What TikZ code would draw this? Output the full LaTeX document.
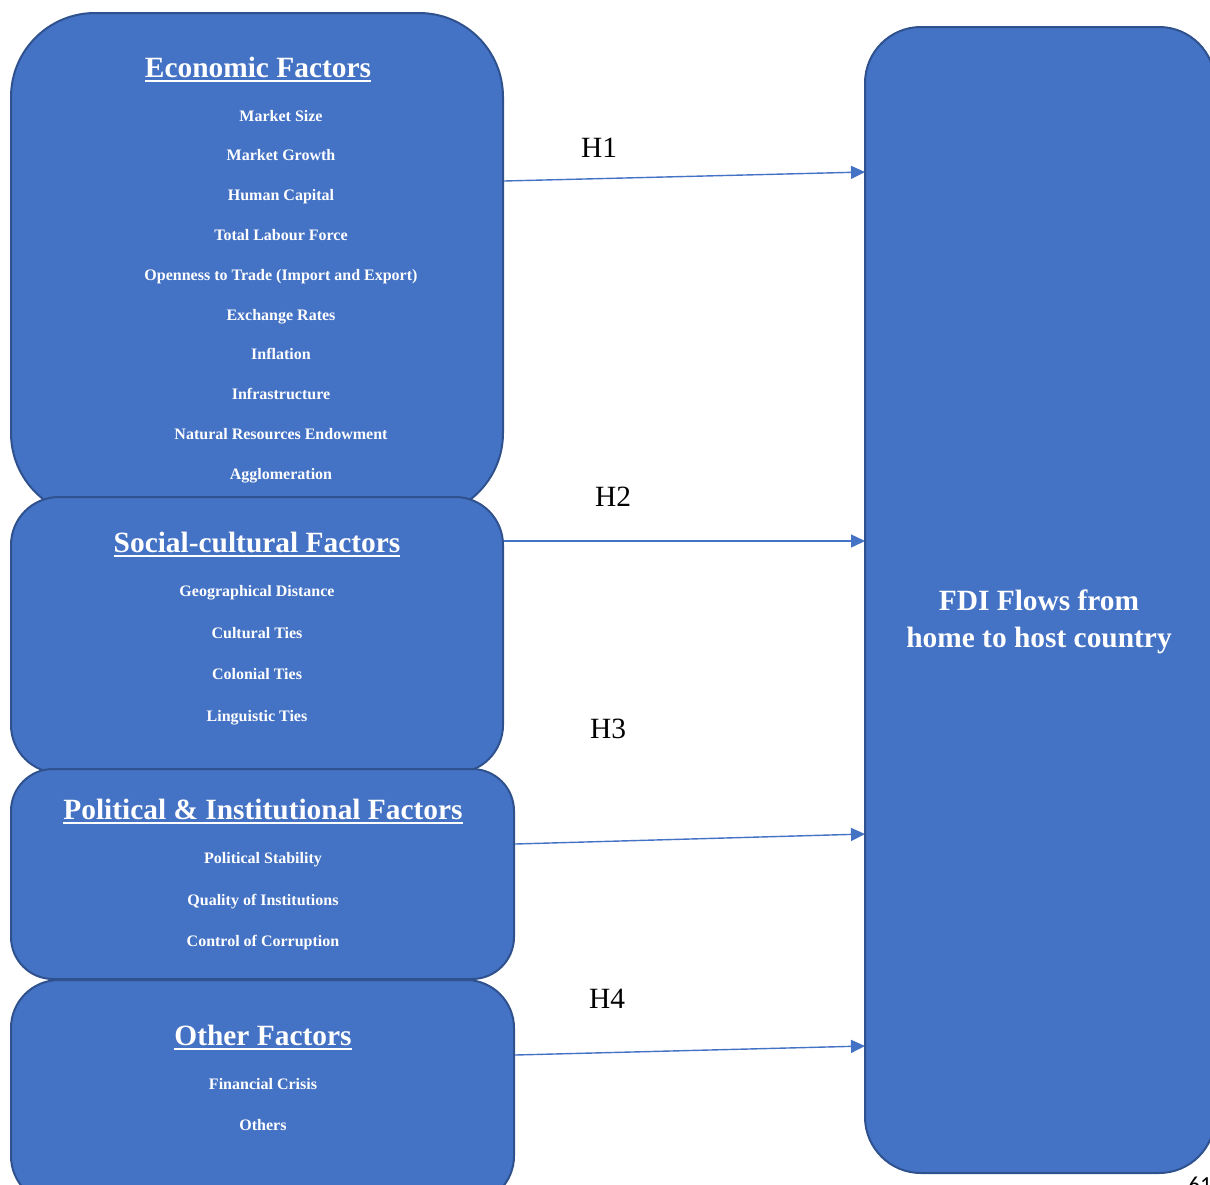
\documentclass[tikz,border=0pt]{standalone}
\usepackage{fontspec}
\setmainfont{Liberation Serif}
\newfontfamily\pagefont{Carlito}
\usetikzlibrary{arrows.meta}
\definecolor{boxfill}{HTML}{4472C4}
\definecolor{boxline}{HTML}{2F528F}
\newcommand\myul[1]{\setbox0\hbox{#1}\rlap{\rule[-2.4pt]{\wd0}{1.1pt}}\box0}
\tikzset{
  factorbox/.style={rectangle, draw=boxline, fill=boxfill, line width=1pt, inner sep=0pt},
  boxtitle/.style={text=white, font=\fontsize{14.7pt}{17pt}\selectfont\bfseries, anchor=base, inner sep=0pt},
  boxitem/.style={text=white, font=\fontsize{8pt}{10pt}\selectfont\bfseries, anchor=base, inner sep=0pt},
  hlabel/.style={text=black, font=\fontsize{14.7pt}{17pt}\selectfont, anchor=base, inner sep=0pt},
  hyparrow/.style={draw=boxfill, line width=0.7pt, -{Triangle[length=7pt,width=6.5pt]}}
}
\begin{document}
\begin{tikzpicture}[x=0.5pt,y=-0.5pt]
\useasboundingbox (0,0) rectangle (1210,1184);
% boxes
\node[factorbox, rounded corners=42pt, minimum width=246pt, minimum height=252pt] (eco) at (257,265) {};
\node[factorbox, rounded corners=24pt, minimum width=246pt, minimum height=138pt] (soc) at (257,635) {};
\node[factorbox, rounded corners=21pt, minimum width=251.5pt, minimum height=105pt] (pol) at (262.5,874) {};
\node[factorbox, rounded corners=24pt, minimum width=251.5pt, minimum height=112pt] (oth) at (262.5,1092) {};
\node[factorbox, rounded corners=28pt, minimum width=175pt, minimum height=573pt] (fdi) at (1040,600) {};
% economic
\node[boxtitle] (ecot) at (258,77) {\myul{Economic Factors}};
\node[boxitem] (e1) at (281,121) {Market Size};
\node[boxitem] (e2) at (281,160.8) {Market Growth};
\node[boxitem] (e3) at (281,200.6) {Human Capital};
\node[boxitem] (e4) at (281,240.4) {Total Labour Force};
\node[boxitem] (e5) at (281,280.2) {Openness to Trade (Import and Export)};
\node[boxitem] (e6) at (281,320) {Exchange Rates};
\node[boxitem] (e7) at (281,359.8) {Inflation};
\node[boxitem] (e8) at (281,399.6) {Infrastructure};
\node[boxitem] (e9) at (281,439.4) {Natural Resources Endowment};
\node[boxitem] (e10) at (281,479.2) {Agglomeration};
% social
\node[boxtitle] (soct) at (257,552) {\myul{Social-cultural Factors}};
\node[boxitem] (s1) at (257,596) {Geographical Distance};
\node[boxitem] (s2) at (257,638) {Cultural Ties};
\node[boxitem] (s3) at (257,679) {Colonial Ties};
\node[boxitem] (s4) at (257,721) {Linguistic Ties};
% political
\node[boxtitle] (polt) at (263,819) {\myul{Political \& Institutional Factors}};
\node[boxitem] (p1) at (263,863) {Political Stability};
\node[boxitem] (p2) at (263,905) {Quality of Institutions};
\node[boxitem] (p3) at (263,946) {Control of Corruption};
% other
\node[boxtitle] (otht) at (263,1045) {\myul{Other Factors}};
\node[boxitem] (o1) at (263,1089) {Financial Crisis};
\node[boxitem] (o2) at (263,1130) {Others};
% fdi text
\node[text=white, font=\fontsize{14.7pt}{18.5pt}\selectfont\bfseries, align=center, inner sep=0pt] (fdit) at (1039,622) {FDI Flows from\\home to host country};
% arrows
\coordinate (h1s) at (504,181);
\coordinate (h1e) at (865,172);
\coordinate (h2s) at (504,541);
\coordinate (h2e) at (865,541);
\coordinate (h3s) at (515,844);
\coordinate (h3e) at (865,834);
\coordinate (h4s) at (515,1055);
\coordinate (h4e) at (865,1046);
\draw[hyparrow] (h1s) -- (h1e);
\draw[hyparrow] (h2s) -- (h2e);
\draw[hyparrow] (h3s) -- (h3e);
\draw[hyparrow] (h4s) -- (h4e);
\node[hlabel] (l1) at (599,157) {H1};
\node[hlabel] (l2) at (613,506) {H2};
\node[hlabel] (l3) at (608,738) {H3};
\node[hlabel] (l4) at (607,1008) {H4};
% page number (cut off at the page edge, as in the reference)
\node[text=black, font=\pagefont\fontsize{11.5pt}{13pt}\selectfont, anchor=base west, inner sep=0pt] (pg) at (1188,1192.5) {61};
\end{tikzpicture}
\end{document}
